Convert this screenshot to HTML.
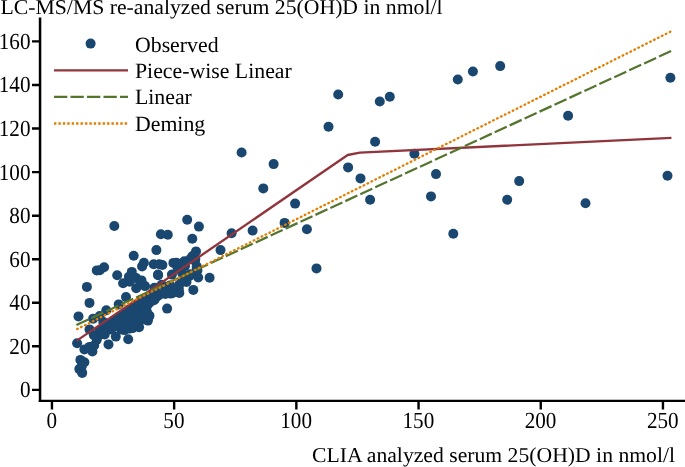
<!DOCTYPE html>
<html><head><meta charset="utf-8"><title>chart</title>
<style>
html,body{margin:0;padding:0;background:#fff;}
body{width:685px;height:467px;overflow:hidden;}
svg{display:block;will-change:transform;}
text{font-family:"Liberation Serif",serif;font-size:21.2px;fill:#000;text-rendering:geometricPrecision;}
.tk text{font-size:23.1px;}
</style></head><body>
<svg width="685" height="467" viewBox="0 0 685 467">
<rect width="685" height="467" fill="#fff"/>
<text x="0.5" y="14.45" style="font-size:21.1px" textLength="442" lengthAdjust="spacingAndGlyphs">LC-MS/MS re-analyzed serum 25(OH)D in nmol/l</text>
<text x="312" y="462" style="font-size:21.1px" textLength="363" lengthAdjust="spacingAndGlyphs">CLIA analyzed serum 25(OH)D in nmol/l</text>
<!-- axes -->
<g stroke="#000" stroke-width="2.4" fill="none" stroke-linecap="butt">
<path d="M40.05 17.5V402.1" stroke-width="2.5"/>
<path d="M38.8 400.9H685"/>
<path d="M32 389.9H40M32 346.3H40M32 302.8H40M32 259.2H40M32 215.7H40M32 172.1H40M32 128.5H40M32 85.0H40M32 41.4H40"/>
<path d="M51.95 400.5V409.6M174.15 400.5V409.6M296.35 400.5V409.6M418.55 400.5V409.6M540.75 400.5V409.6M662.95 400.5V409.6"/>
</g>
<g text-anchor="end" class="tk">
<text transform="translate(30.5 397.3) scale(0.915 1)">0</text><text transform="translate(30.5 353.7) scale(0.915 1)">20</text><text transform="translate(30.5 310.2) scale(0.915 1)">40</text><text transform="translate(30.5 266.6) scale(0.915 1)">60</text><text transform="translate(30.5 223.1) scale(0.915 1)">80</text><text transform="translate(30.5 179.5) scale(0.915 1)">100</text><text transform="translate(30.5 135.9) scale(0.915 1)">120</text><text transform="translate(30.5 92.4) scale(0.915 1)">140</text><text transform="translate(30.5 48.8) scale(0.915 1)">160</text>
</g>
<g text-anchor="middle" class="tk">
<text transform="translate(51.8 427.9) scale(0.915 1)">0</text><text transform="translate(173.9 427.9) scale(0.915 1)">50</text><text transform="translate(296.1 427.9) scale(0.915 1)">100</text><text transform="translate(418.4 427.9) scale(0.915 1)">150</text><text transform="translate(540.5 427.9) scale(0.915 1)">200</text><text transform="translate(662.8 427.9) scale(0.915 1)">250</text>
</g>
<!-- legend -->
<circle cx="90.6" cy="43.6" r="5.0" fill="#1a476f"/>
<path d="M54 70.3H128" stroke="#90353b" stroke-width="2.35"/>
<path d="M54 96.8H128" stroke="#55752f" stroke-width="2.25" stroke-dasharray="13.3 3.2"/>
<path d="M54 123.4H128" stroke="#e37e00" stroke-width="2.5" stroke-dasharray="2.4 2.02"/>
<text style="font-size:21.8px" transform="translate(135.0 51.8) scale(1.0 1)">Observed</text>
<text style="font-size:21.8px" transform="translate(135.0 78.1) scale(1.0 1)">Piece-wise Linear</text>
<text style="font-size:21.8px" transform="translate(135.0 104.4) scale(1.0 1)">Linear</text>
<text style="font-size:21.8px" transform="translate(135.0 130.7) scale(1.0 1)">Deming</text>
<!-- points -->
<polygon fill="#1a476f" points="95.0,328.4 113.6,315.3 132.3,302.9 149.7,290.5 180.0,290.0 180.0,295.0 172.0,296.0 164.6,296.5 157.1,298.1 152.8,301.8 151.1,308.6 152.9,315.5 151.5,319.2 144.7,320.4 142.2,326.0 137.9,330.4 132.3,331.0 127.5,332.9 124.2,331.6 120.5,328.8 117.4,328.8 115.5,330.7 109.9,332.9 106.8,336.2 102.5,338.4 98.7,342.2 95.0,343.4"/>
<g fill="#1a476f"><circle cx="82.2" cy="372.9" r="5.0"/><circle cx="79.3" cy="369.1" r="5.0"/><circle cx="84.4" cy="362.2" r="5.0"/><circle cx="80.4" cy="359.9" r="5.0"/><circle cx="77.1" cy="343.2" r="5.0"/><circle cx="84.4" cy="349.4" r="5.0"/><circle cx="92.4" cy="351.4" r="5.0"/><circle cx="89.5" cy="346.9" r="5.0"/><circle cx="108.5" cy="344.4" r="5.0"/><circle cx="96.8" cy="339.6" r="5.0"/><circle cx="115.8" cy="336.6" r="5.0"/><circle cx="128.2" cy="339.2" r="5.0"/><circle cx="89.5" cy="329.4" r="5.0"/><circle cx="93.9" cy="335.2" r="5.0"/><circle cx="102.6" cy="333.7" r="5.0"/><circle cx="109.9" cy="329.4" r="5.0"/><circle cx="121.6" cy="329.4" r="5.0"/><circle cx="130.3" cy="327.9" r="5.0"/><circle cx="139.1" cy="327.2" r="5.0"/><circle cx="147.9" cy="320.6" r="5.0"/><circle cx="86.9" cy="286.9" r="5.0"/><circle cx="89.5" cy="302.9" r="5.0"/><circle cx="78.5" cy="316.4" r="5.0"/><circle cx="96.8" cy="270.4" r="5.0"/><circle cx="104.1" cy="267.2" r="5.0"/><circle cx="117.2" cy="275.2" r="5.0"/><circle cx="123.1" cy="283.2" r="5.0"/><circle cx="131.8" cy="271.9" r="5.0"/><circle cx="128.9" cy="276.7" r="5.0"/><circle cx="136.2" cy="278.1" r="5.0"/><circle cx="142.1" cy="266.4" r="5.0"/><circle cx="153.7" cy="264.2" r="5.0"/><circle cx="158.1" cy="275.2" r="5.0"/><circle cx="140.6" cy="283.9" r="5.0"/><circle cx="145.0" cy="286.1" r="5.0"/><circle cx="136.2" cy="288.2" r="5.0"/><circle cx="126.0" cy="297.1" r="5.0"/><circle cx="118.7" cy="304.4" r="5.0"/><circle cx="106.3" cy="310.2" r="5.0"/><circle cx="93.1" cy="318.7" r="5.0"/><circle cx="99.7" cy="316.1" r="5.0"/><circle cx="155.2" cy="288.2" r="5.0"/><circle cx="134.8" cy="311.7" r="5.0"/><circle cx="142.1" cy="308.8" r="5.0"/><circle cx="149.4" cy="316.1" r="5.0"/><circle cx="128.9" cy="318.9" r="5.0"/><circle cx="139.1" cy="321.9" r="5.0"/><circle cx="118.7" cy="318.9" r="5.0"/><circle cx="111.4" cy="323.4" r="5.0"/><circle cx="147.9" cy="304.4" r="5.0"/><circle cx="155.2" cy="298.6" r="5.0"/><circle cx="114.3" cy="226.0" r="5.0"/><circle cx="133.7" cy="255.8" r="5.0"/><circle cx="156.4" cy="250.1" r="5.0"/><circle cx="160.9" cy="234.3" r="5.0"/><circle cx="143.9" cy="262.8" r="5.0"/><circle cx="159.3" cy="264.2" r="5.0"/><circle cx="187.2" cy="219.7" r="5.0"/><circle cx="198.9" cy="226.6" r="5.0"/><circle cx="192.3" cy="238.7" r="5.0"/><circle cx="167.8" cy="234.7" r="5.0"/><circle cx="220.5" cy="250.1" r="5.0"/><circle cx="196.0" cy="251.4" r="5.0"/><circle cx="192.3" cy="256.2" r="5.0"/><circle cx="195.3" cy="259.1" r="5.0"/><circle cx="184.3" cy="261.3" r="5.0"/><circle cx="176.3" cy="262.8" r="5.0"/><circle cx="162.4" cy="265.0" r="5.0"/><circle cx="196.7" cy="266.4" r="5.0"/><circle cx="209.6" cy="277.8" r="5.0"/><circle cx="193.3" cy="289.9" r="5.0"/><circle cx="167.1" cy="308.6" r="5.0"/><circle cx="149.3" cy="315.5" r="5.0"/><circle cx="198.2" cy="277.5" r="5.0"/><circle cx="196.7" cy="268.8" r="5.0"/><circle cx="158.0" cy="274.6" r="5.0"/><circle cx="173.4" cy="262.9" r="5.0"/><circle cx="183.6" cy="262.9" r="5.0"/><circle cx="171.9" cy="274.6" r="5.0"/><circle cx="182.1" cy="273.1" r="5.0"/><circle cx="189.4" cy="276.0" r="5.0"/><circle cx="186.5" cy="281.9" r="5.0"/><circle cx="179.2" cy="284.8" r="5.0"/><circle cx="169.0" cy="287.7" r="5.0"/><circle cx="177.7" cy="292.1" r="5.0"/><circle cx="170.4" cy="293.6" r="5.0"/><circle cx="160.2" cy="294.3" r="5.0"/><circle cx="152.9" cy="298.0" r="5.0"/><circle cx="154.4" cy="287.7" r="5.0"/><circle cx="161.7" cy="284.8" r="5.0"/><circle cx="150.0" cy="302.3" r="5.0"/><circle cx="133.9" cy="310.9" r="5.0"/><circle cx="144.1" cy="308.1" r="5.0"/><circle cx="129.5" cy="328.6" r="5.0"/><circle cx="123.7" cy="321.2" r="5.0"/><circle cx="113.4" cy="327.1" r="5.0"/><circle cx="104.7" cy="334.4" r="5.0"/><circle cx="148.5" cy="302.2" r="5.0"/><circle cx="157.8" cy="295.9" r="5.0"/><circle cx="165.3" cy="293.9" r="5.0"/><circle cx="172.3" cy="293.2" r="5.0"/><circle cx="179.3" cy="292.9" r="5.0"/><circle cx="141.2" cy="318.2" r="5.0"/><circle cx="177.5" cy="267.4" r="5.0"/><circle cx="185.0" cy="266.0" r="5.0"/><circle cx="94.2" cy="345.4" r="5.0"/><circle cx="99.8" cy="270.2" r="5.0"/><circle cx="129.6" cy="281.7" r="5.0"/><circle cx="103.3" cy="321.9" r="5.0"/><circle cx="132.6" cy="328.1" r="5.0"/><circle cx="124.5" cy="330.1" r="5.0"/><circle cx="81.9" cy="365.9" r="5.0"/><circle cx="190.0" cy="259.2" r="5.0"/><circle cx="193.7" cy="255.6" r="5.0"/><circle cx="195.0" cy="260.6" r="5.0"/><circle cx="197.4" cy="270.4" r="5.0"/><circle cx="190.0" cy="274.2" r="5.0"/><circle cx="182.5" cy="281.6" r="5.0"/><circle cx="178.8" cy="289.1" r="5.0"/><circle cx="171.3" cy="291.6" r="5.0"/><circle cx="165.1" cy="292.8" r="5.0"/><circle cx="170.1" cy="285.4" r="5.0"/><circle cx="141.5" cy="280.4" r="5.0"/><circle cx="147.8" cy="302.8" r="5.0"/><circle cx="154.0" cy="300.2" r="5.0"/><circle cx="177.6" cy="263.6" r="5.0"/><circle cx="231.6" cy="233.2" r="5.0"/><circle cx="241.6" cy="152.5" r="5.0"/><circle cx="252.6" cy="230.6" r="5.0"/><circle cx="263.3" cy="188.4" r="5.0"/><circle cx="273.6" cy="164.1" r="5.0"/><circle cx="284.6" cy="222.9" r="5.0"/><circle cx="295.1" cy="203.6" r="5.0"/><circle cx="306.9" cy="229.2" r="5.0"/><circle cx="316.5" cy="268.4" r="5.0"/><circle cx="328.5" cy="126.8" r="5.0"/><circle cx="338.2" cy="94.5" r="5.0"/><circle cx="348.1" cy="167.4" r="5.0"/><circle cx="360.5" cy="178.4" r="5.0"/><circle cx="370.1" cy="199.7" r="5.0"/><circle cx="375.1" cy="141.8" r="5.0"/><circle cx="379.8" cy="101.5" r="5.0"/><circle cx="389.8" cy="96.8" r="5.0"/><circle cx="414.4" cy="153.8" r="5.0"/><circle cx="436.0" cy="174.1" r="5.0"/><circle cx="431.0" cy="196.4" r="5.0"/><circle cx="453.3" cy="233.8" r="5.0"/><circle cx="457.8" cy="79.5" r="5.0"/><circle cx="472.9" cy="71.5" r="5.0"/><circle cx="500.2" cy="66.1" r="5.0"/><circle cx="519.2" cy="181.1" r="5.0"/><circle cx="507.2" cy="199.8" r="5.0"/><circle cx="568.1" cy="115.8" r="5.0"/><circle cx="585.5" cy="203.2" r="5.0"/><circle cx="670.4" cy="77.8" r="5.0"/><circle cx="667.5" cy="175.8" r="5.0"/></g>
<!-- lines -->
<path d="M76.5 340.9L347.7 155L360 152.6L671.4 137.8" fill="none" stroke="#90353b" stroke-width="2.35" stroke-linejoin="round"/>
<path d="M76.4 325.0L671.6 50.8" fill="none" stroke="#55752f" stroke-width="2.25" stroke-dasharray="13.2 3.25"/>
<path d="M76.3 329.5L671.5 31.1" fill="none" stroke="#e37e00" stroke-width="2.3" stroke-linecap="round" stroke-dasharray="0.7 3.69" stroke-dashoffset="-0.9"/>
</svg>
</body></html>
